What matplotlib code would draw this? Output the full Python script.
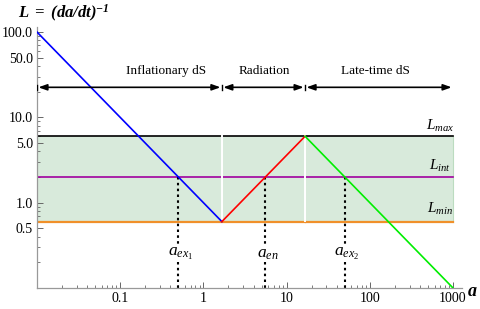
import matplotlib
matplotlib.use("Agg")
import matplotlib.pyplot as plt
import numpy as np

# ---- data ----
a_bounds = [0.01, 1.667, 16.67, 1000.0]   # era boundaries in a
L_max, L_int, L_min = 6.0, 2.0, 0.6
infl_a, infl_L = [0.01, 1.667], [100.0, 0.6]
rad_a, rad_L = [1.667, 16.67], [0.6, 6.0]
late_a, late_L = [16.67, 1000.0], [6.0, 0.1]
cross_a = [0.5, 5.56, 50.0]
cross_labels = [r"$a_{ex_1}$", r"$a_{en}$", r"$a_{ex_2}$"]
era_labels = ["Inflationary dS", "Radiation", "Late-time dS"]
era_label_x = [0.36, 5.4, 118.0]
xticks = [0.1, 1, 10, 100, 1000]
xticklabels = ["0.1", "1", "10", "100", "1000"]
yticks = [0.5, 1, 5, 10, 50, 100]
yticklabels = ["0.5", "1.0", "5.0", "10.0", "50.0", "100.0"]

plt.rcParams['font.family'] = ['Liberation Serif', 'DejaVu Serif']
plt.rcParams['mathtext.fontset'] = 'custom'
plt.rcParams['mathtext.it'] = 'Liberation Serif:italic'
plt.rcParams['mathtext.rm'] = 'Liberation Serif'
plt.rcParams['mathtext.bf'] = 'Liberation Serif:bold:italic'

fig = plt.figure(figsize=(4.81, 3.09), dpi=100)
ax = fig.add_axes([37/481, 21/309, 425/481, 261/309])
ax.set_xscale('log')
ax.set_yscale('log')
ax.set_xlim(0.01, 1282)
ax.set_ylim(0.1, 114.6)

shade = '#d8eadb'
gap = 1.018
for i in range(3):
    lo = a_bounds[i] * (gap if i > 0 else 1)
    hi = a_bounds[i + 1]
    ax.fill_between([lo, hi], [L_min, L_min], [L_max, L_max], color=shade, lw=0, zorder=1)
ax.plot([a_bounds[-1], a_bounds[-1]], [L_min, L_max], color='#bcdcc0', lw=0.8, zorder=1)

# horizontal lines
ax.plot([a_bounds[0], a_bounds[-1]], [L_max, L_max], color='black', lw=1.2, zorder=2)
ax.plot([a_bounds[0], a_bounds[-1]], [L_int, L_int], color='#a0009e', lw=1.2, zorder=2)
ax.plot([a_bounds[0], a_bounds[2]], [L_min, L_min], color='#f0902a', lw=1.6, zorder=2)
ax.plot([a_bounds[2] * gap, a_bounds[-1]], [L_min, L_min], color='#f0902a', lw=1.6, zorder=2)

# white separators
for b in a_bounds[1:3]:
    ax.plot([b * 1.01, b * 1.01], [L_min * 1.03, L_max], color='white', lw=1.4, zorder=2.5)

# era curves
ax.plot(infl_a, infl_L, color='#0000ff', lw=1.2, zorder=3)
ax.plot(rad_a, rad_L, color='#ff0000', lw=1.2, zorder=3)
ax.plot(late_a, late_L, color='#00ee00', lw=1.2, zorder=3)

# dotted crossing lines with labels
for ca, lab in zip(cross_a, cross_labels):
    ax.plot([ca, ca], [L_int, 0.31], color='black', ls=(0, (1.2, 1.6)), lw=1.5, zorder=2.8)
    ax.plot([ca, ca], [0.2, 0.1], color='black', ls=(0, (1.2, 1.6)), lw=1.5, zorder=2.8)
    ax.text(ca * 1.06, 0.25, lab, fontsize=12.5, ha='center', va='center', zorder=4)

# era arrows
y_arr = 22.5
for i in range(3):
    ax.annotate('', xy=(a_bounds[i + 1], y_arr), xytext=(a_bounds[i], y_arr),
                arrowprops=dict(arrowstyle='<|-|>,head_length=0.5,head_width=0.18',
                                color='black', lw=1.2, shrinkA=1, shrinkB=1),
                zorder=4)
    ax.text(era_label_x[i], 34.5, era_labels[i], fontsize=9.5, ha='center', va='center')
for b in a_bounds[:3]:
    ax.plot([b, b], [y_arr / 1.07, y_arr * 1.07], color='black', lw=1.0, zorder=4)

# line labels
ax.text(700, L_max * 1.32, r"$L_{max}$", fontsize=11, ha='center', va='center')
ax.text(700, L_int * 1.36, r"$L_{int}$", fontsize=11, ha='center', va='center')
ax.text(700, L_min * 1.42, r"$L_{min}$", fontsize=11, ha='center', va='center')

# axes styling
for s in ['top', 'right']:
    ax.spines[s].set_visible(False)
for s in ['left', 'bottom']:
    ax.spines[s].set_color('#999999')
    ax.spines[s].set_linewidth(0.9)
ax.set_xticks(xticks)
ax.set_xticklabels(xticklabels)
ax.set_yticks(yticks)
ax.set_yticklabels(yticklabels)
ax.tick_params(axis='both', which='major', direction='in', length=4, width=0.7,
               color='#666666', labelsize=10, pad=3)
ax.tick_params(axis='both', which='minor', direction='in', length=2, width=0.6, color='#666666')
ax.yaxis.set_minor_locator(matplotlib.ticker.LogLocator(base=10, subs=np.arange(2, 10)))
ax.yaxis.set_minor_formatter(matplotlib.ticker.NullFormatter())
ax.xaxis.set_minor_locator(matplotlib.ticker.LogLocator(base=10, subs=np.arange(2, 10)))
ax.xaxis.set_minor_formatter(matplotlib.ticker.NullFormatter())

fig.text(18/481, 1 - 13/309, r"$\mathbf{L\ =\ (da/dt)^{-1}}$", fontsize=12, ha='left', va='center')
fig.text(472/481, 1 - 291/309, r"$\mathbf{a}$", fontsize=13, ha='center', va='center')

fig.savefig('out.png', dpi=100)
